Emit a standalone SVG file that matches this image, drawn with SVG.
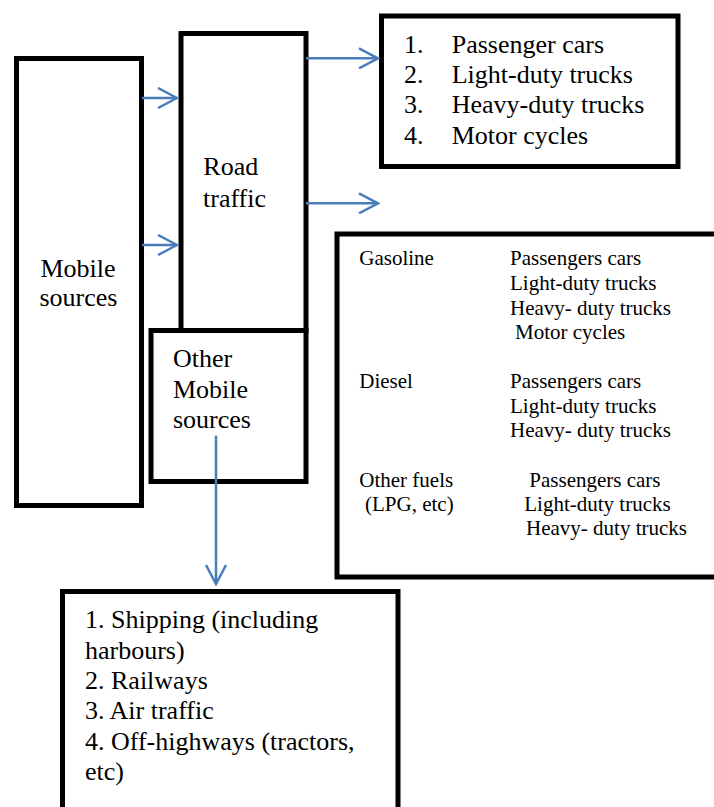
<svg xmlns="http://www.w3.org/2000/svg" width="714" height="807" viewBox="0 0 714 807">
<style>
.box{fill:#fff;stroke:#000;stroke-width:5}
.t{font-family:'Liberation Serif','DejaVu Serif',serif;fill:#000;font-size:26px}
.s{font-family:'Liberation Serif','DejaVu Serif',serif;fill:#000;font-size:21px}
.c{fill:none;stroke:#4A7EBB;stroke-width:2.5}
</style>
<defs>
<marker id="ah" viewBox="-20 -11 22 22" refX="0" refY="0" markerWidth="22" markerHeight="22" markerUnits="userSpaceOnUse" orient="auto">
<path d="M-19,-10 L0,0 L-19,10" fill="none" stroke="#4A7EBB" stroke-width="2.5"/>
</marker>
</defs>
<rect width="714" height="807" fill="#fff"/>
<g id="mobile-sources">
<rect class="box" x="16.5" y="58.5" width="125" height="447"/>
<text class="t" x="40.5" y="276.7">Mobile</text>
<text class="t" x="39.5" y="306">sources</text>
</g>
<g id="road-traffic">
<rect class="box" x="181" y="33.5" width="125" height="297"/>
<text class="t" x="203.3" y="175">Road</text>
<text class="t" x="203" y="206.7">traffic</text>
</g>
<g id="other-mobile">
<rect class="box" x="151" y="330.5" width="155" height="151"/>
<text class="t" x="173" y="366.7">Other</text>
<text class="t" x="173" y="397.7">Mobile</text>
<text class="t" x="173" y="427.7">sources</text>
</g>
<g id="vehicle-list">
<rect class="box" x="381.5" y="16" width="296.5" height="150.5"/>
<text class="t" x="404" y="53.3">1.</text><text class="t" x="451.7" y="53.3">Passenger cars</text>
<text class="t" x="404" y="83.3">2.</text><text class="t" x="451.7" y="83.3">Light-duty trucks</text>
<text class="t" x="404" y="113.3">3.</text><text class="t" x="451.7" y="113.3">Heavy-duty trucks</text>
<text class="t" x="404" y="144.3">4.</text><text class="t" x="451.7" y="144.3">Motor cycles</text>
</g>
<g id="fuel-box">
<rect class="box" x="337" y="234" width="390" height="343"/>
<text class="s" x="359.3" y="265">Gasoline</text>
<text class="s" x="510" y="265">Passengers cars</text>
<text class="s" x="510" y="290">Light-duty trucks</text>
<text class="s" x="510" y="315">Heavy- duty trucks</text>
<text class="s" x="515" y="339.3">Motor cycles</text>
<text class="s" x="359.3" y="388.3">Diesel</text>
<text class="s" x="510" y="388.3">Passengers cars</text>
<text class="s" x="510" y="412.7">Light-duty trucks</text>
<text class="s" x="510" y="437.3">Heavy- duty trucks</text>
<text class="s" x="359.3" y="486.7">Other fuels</text>
<text class="s" x="365" y="511">(LPG, etc)</text>
<text class="s" x="529.3" y="486.7">Passengers cars</text>
<text class="s" x="524.3" y="511">Light-duty trucks</text>
<text class="s" x="526" y="535">Heavy- duty trucks</text>
</g>
<g id="other-list">
<rect class="box" x="62.5" y="591.5" width="335.5" height="240"/>
<text class="t" x="85" y="628.3">1. Shipping (including</text>
<text class="t" x="85" y="659.3">harbours)</text>
<text class="t" x="85" y="689.3">2. Railways</text>
<text class="t" x="85" y="719.3">3. Air traffic</text>
<text class="t" x="85" y="750">4. Off-highways (tractors,</text>
<text class="t" x="85" y="780">etc)</text>
</g>
<g id="connectors">
<line class="c" x1="142" y1="98" x2="177" y2="98" marker-end="url(#ah)"/>
<line class="c" x1="142" y1="245" x2="177" y2="245" marker-end="url(#ah)"/>
<line class="c" x1="306" y1="58.3" x2="378" y2="58.3" marker-end="url(#ah)"/>
<line class="c" x1="306" y1="203.3" x2="378" y2="203.3" marker-end="url(#ah)"/>
<line class="c" x1="216" y1="435.7" x2="216" y2="584" marker-end="url(#ah)"/>
</g>
</svg>
